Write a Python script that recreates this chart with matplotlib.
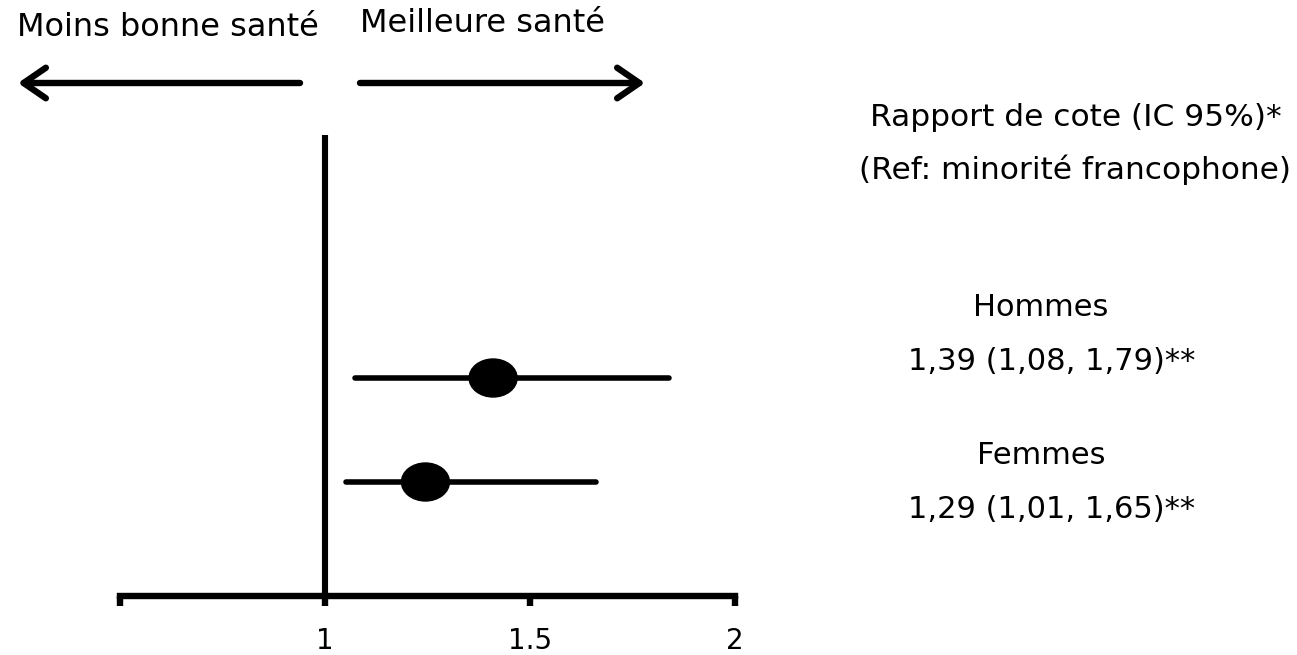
import matplotlib
matplotlib.use("Agg")
import matplotlib.pyplot as plt
from matplotlib.patches import Ellipse

# Data (odds ratios as drawn in the picture)
groups = ["Hommes", "Femmes"]
or_point = [1.41, 1.245]
or_low = [1.073, 1.05]
or_high = [1.84, 1.66]
row_y = [1, 0]
labels_ci = ["1,39 (1,08, 1,79)**", "1,29 (1,01, 1,65)**"]
tick_vals = [0.5, 1, 1.5, 2]
tick_labels = ["", "1", "1.5", "2"]

plt.rcParams["font.family"] = ["DejaVu Sans"]
W, H = 1297, 655
fig = plt.figure(figsize=(W / 100, H / 100), dpi=100)
ax = fig.add_axes([0, 0, 1, 1])

# scale: 410 px per unit, x=1 at px 325 ; 104 px per row, Femmes row at px 482
ax.set_xlim(1 - 325 / 410, 1 + (W - 325) / 410)
ax.set_ylim((482 - H) / 104, 482 / 104)

axis_y = (482 - 596) / 104
line_top = (482 - 135) / 104
arrow_y = (482 - 83) / 104
lw = 4.0

# axis
for s in ["top", "right", "left"]:
    ax.spines[s].set_visible(False)
ax.spines["bottom"].set_position(("data", axis_y))
ax.spines["bottom"].set_bounds(tick_vals[0], tick_vals[-1])
ax.spines["bottom"].set_linewidth(4.6)
ax.set_xticks(tick_vals)
ax.set_xticklabels(tick_labels, fontsize=20)
ax.tick_params(axis="x", direction="out", length=7, width=4.6, pad=15)
ax.set_yticks([])
ax.patch.set_alpha(0)

# reference line at 1
ax.plot([1, 1], [axis_y, line_top], color="black", lw=4.4, solid_capstyle="butt")

# CI lines and point estimates
for y, p, lo, hi in zip(row_y, or_point, or_low, or_high):
    ax.plot([lo, hi], [y, y], color="black", lw=lw, solid_capstyle="round")
    ax.add_patch(Ellipse((p, y), 48 / 410, 38 / 104, color="black", zorder=3))

# direction arrows
arrow_kw = dict(arrowstyle="->,head_length=0.8,head_width=0.55", lw=4.6, color="black",
                shrinkA=0, shrinkB=0, mutation_scale=20)
ax.annotate("", xy=(1 - 307 / 410, arrow_y), xytext=(1 - 25 / 410, arrow_y), arrowprops=arrow_kw)
ax.annotate("", xy=(1 + 320 / 410, arrow_y), xytext=(1 + 35 / 410, arrow_y), arrowprops=arrow_kw)


def ftext(x, y, s, size=22):
    fig.text(x / W, 1 - y / H, s, ha="center", va="center", fontsize=size)


ftext(168, 27, "Moins bonne santé", 23)
ftext(483, 24, "Meilleure santé", 23)
ftext(1076, 117, "Rapport de cote (IC 95%)*", 22.5)
ftext(1075, 170, "(Ref: minorité francophone)", 22.5)
ftext(1041, 308, groups[0])
ftext(1052, 361, labels_ci[0])
ftext(1041, 455, groups[1])
ftext(1052, 510, labels_ci[1])

fig.savefig("out.png", dpi=100)
